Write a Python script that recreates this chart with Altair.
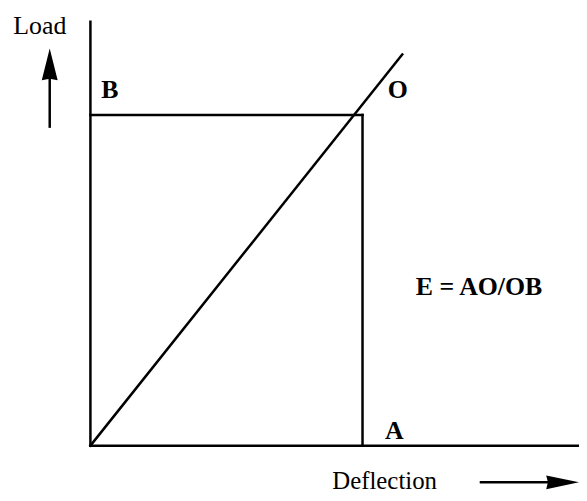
import altair as alt
import pandas as pd

# Units: deflection measured so that A = 1, load measured so that B = 1
X_MIN, X_MAX = -0.3029, 1.7956
Y_MIN, Y_MAX = -0.1381, 1.3183
W, H = 575, 485

# Line segments (axes, rectangle O-A / O-B, and the load-deflection line)
seg_name = ["load axis", "deflection axis", "load line", "OB", "OA"]
seg_x  = [0.0, 0.0,   0.0,   0.0, 1.0]
seg_y  = [0.0, 0.0,   0.0,   1.0, 0.0]
seg_x2 = [0.0, 1.796, 1.146, 1.0, 1.0]
seg_y2 = [1.282, 0.0, 1.183, 1.0, 1.0]

# Arrow shafts
arr_x  = [-0.1496, 1.4307]
arr_y  = [0.961, -0.111]
arr_x2 = [-0.1496, 1.7354]
arr_y2 = [1.153, -0.111]

# Arrow heads
head_x = [-0.1496]
head_y = [1.153]
head2_x = [1.7354]
head2_y = [-0.111]

# Point labels
pt_label = ["B", "O", "A"]
pt_x = [0.0712, 1.1296, 1.1168]
pt_y = [1.051, 1.051, 0.021]

formula_label = ["E = AO/OB"]
formula_x = [1.6606]
formula_y = [0.4565]

load_label = ["Load"]
load_x = [-0.1861]
load_y = [1.246]

defl_label = ["Deflection"]
defl_x = [1.2737]
defl_y = [-0.1321]

xs = alt.Scale(domain=[X_MIN, X_MAX], nice=False, zero=False)
ys = alt.Scale(domain=[Y_MIN, Y_MAX], nice=False, zero=False)
FONT = "Liberation Serif"
LW = 2.5

segs = pd.DataFrame({"name": seg_name, "x": seg_x, "y": seg_y, "x2": seg_x2, "y2": seg_y2})
arrs = pd.DataFrame({"x": arr_x, "y": arr_y, "x2": arr_x2, "y2": arr_y2})

def enc_xy(ch):
    return ch.encode(
        x=alt.X("x:Q", scale=xs, axis=None),
        y=alt.Y("y:Q", scale=ys, axis=None),
    )

lines = alt.Chart(segs).mark_rule(color="black", strokeWidth=LW, strokeCap="square").encode(
    x=alt.X("x:Q", scale=xs, axis=None),
    y=alt.Y("y:Q", scale=ys, axis=None),
    x2="x2:Q", y2="y2:Q",
)

shafts = alt.Chart(arrs).mark_rule(color="black", strokeWidth=LW).encode(
    x=alt.X("x:Q", scale=xs, axis=None),
    y=alt.Y("y:Q", scale=ys, axis=None),
    x2="x2:Q", y2="y2:Q",
)

up_head = enc_xy(alt.Chart(pd.DataFrame({"x": head_x, "y": head_y})).mark_point(
    shape="M0,-1L0.5,1L0,0.9L-0.5,1Z", size=1024, filled=True, color="black",
    opacity=1, strokeWidth=0))

right_head = enc_xy(alt.Chart(pd.DataFrame({"x": head2_x, "y": head2_y})).mark_point(
    shape="M1,0L-1,-0.42L-0.9,0L-1,0.42Z", size=1089, filled=True, color="black",
    opacity=1, strokeWidth=0))

pts = enc_xy(alt.Chart(pd.DataFrame({"t": pt_label, "x": pt_x, "y": pt_y})).mark_text(
    font=FONT, fontSize=26, fontWeight="bold", align="center", baseline="alphabetic",
    color="black")).encode(text="t:N")

formula = enc_xy(alt.Chart(pd.DataFrame({"t": formula_label, "x": formula_x, "y": formula_y})).mark_text(
    font=FONT, fontSize=26, fontWeight="bold", align="right", baseline="alphabetic",
    color="black")).encode(text="t:N")

load_t = enc_xy(alt.Chart(pd.DataFrame({"t": load_label, "x": load_x, "y": load_y})).mark_text(
    font=FONT, fontSize=26, align="center", baseline="alphabetic", color="black")).encode(text="t:N")

defl_t = enc_xy(alt.Chart(pd.DataFrame({"t": defl_label, "x": defl_x, "y": defl_y})).mark_text(
    font=FONT, fontSize=25, align="right", baseline="alphabetic", color="black")).encode(text="t:N")

chart = alt.layer(lines, shafts, up_head, right_head, pts, formula, load_t, defl_t).properties(
    width=W, height=H, padding=0, autosize=alt.AutoSizeParams(type="none"),
    background="white",
).configure_view(stroke=None)

chart.save("out.html", embed_options={"renderer": "svg", "actions": False})
